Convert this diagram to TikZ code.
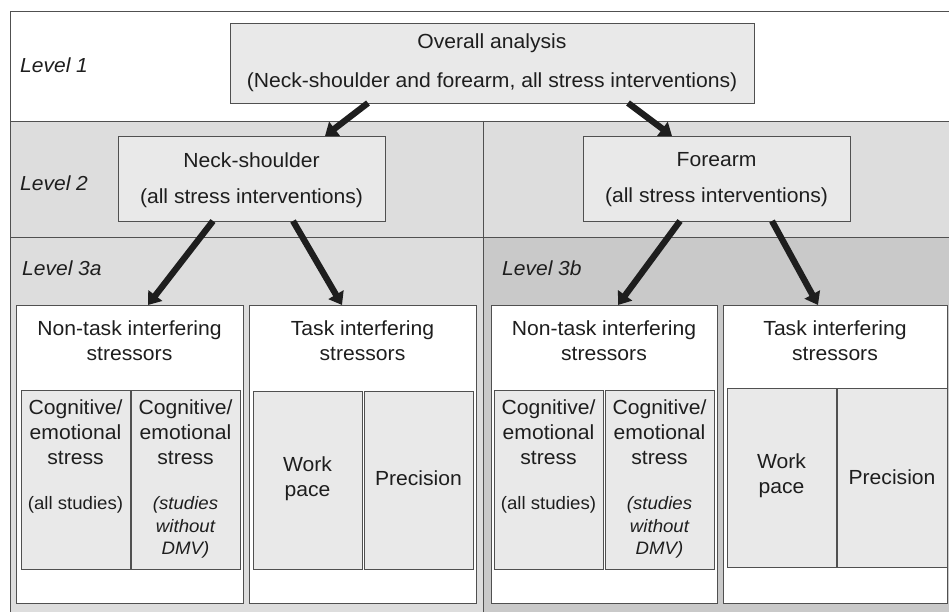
\documentclass[tikz,border=0pt]{standalone}
\usepackage{fontspec}
\setmainfont{Liberation Sans}[FakeStretch=1.035]
\usetikzlibrary{arrows.meta}
\definecolor{bandlight}{RGB}{221,221,221}
\definecolor{banddark}{RGB}{201,201,201}
\definecolor{boxfill}{RGB}{233,233,233}
\definecolor{edge}{RGB}{80,80,80}
\definecolor{ink}{RGB}{30,30,30}
\begin{document}
\begin{tikzpicture}[x=1pt,y=-1pt,
  bandline/.style={draw=edge, line width=0.9pt},
  graybox/.style={draw=edge, fill=boxfill, line width=0.8pt, rectangle, inner sep=0pt, outer sep=0pt},
  whitebox/.style={draw=edge, fill=white, line width=0.8pt, rectangle, inner sep=0pt, outer sep=0pt},
  txt/.style={font=\fontsize{20.4}{25}\selectfont, align=center, inner sep=0pt, text=ink},
  smalltxt/.style={font=\fontsize{18}{22.5}\selectfont, align=center, inner sep=0pt, text=ink},
  lvl/.style={font=\fontsize{20.3}{24}\selectfont\itshape, anchor=west, inner sep=0pt, text=ink},
  arr/.style={draw=ink, line width=6.3pt, -{Triangle[width=17pt,length=12pt]}, shorten >=0pt}
]
\useasboundingbox (0,0) rectangle (949,612);
\begin{scope}
\clip (0,0) rectangle (949,612);
% bands
\fill[white] (10,11) rectangle (960,121);
\fill[bandlight] (10,121) rectangle (960,237);
\fill[bandlight] (10,237) rectangle (483,620);
\fill[banddark] (483,237) rectangle (960,620);
\draw[bandline] (10,620) -- (10,11) -- (960,11);
\draw[bandline] (10,121) -- (960,121);
\draw[bandline] (10,237) -- (960,237);
\draw[bandline] (483,121) -- (483,620);
\end{scope}

% level labels
\node[lvl] (l1) at (20,65) {Level 1};
\node[lvl] (l2) at (20,183) {Level 2};
\node[lvl] (l3a) at (22,268) {Level 3a};
\node[lvl] (l3b) at (502,268) {Level 3b};

% level 1 and 2 boxes
\node[graybox, minimum width=524pt, minimum height=80pt] (top) at (492,63) {};
\node[txt, font=\fontsize{20.4}{39}\selectfont] (toptxt) at (492,62.5) {Overall analysis\\(Neck-shoulder and forearm, all stress interventions)};
\node[graybox, minimum width=267pt, minimum height=85pt] (ns) at (251.5,178.5) {};
\node[txt, font=\fontsize{20.4}{36}\selectfont] (nstxt) at (251.5,180) {Neck-shoulder\\(all stress interventions)};
\node[graybox, minimum width=267pt, minimum height=85pt] (fa) at (716.5,178.5) {};
\node[txt, font=\fontsize{20.4}{36}\selectfont] (fatxt) at (716.5,180) {Forearm\\(all stress interventions)};

% level 3a
\node[whitebox, minimum width=227pt, minimum height=298pt] (nta) at (129.5,454) {};
\node[txt] (ntatxt) at (129.5,340.5) {Non-task interfering\\stressors};
\node[whitebox, minimum width=227pt, minimum height=298pt] (tka) at (362.5,454) {};
\node[txt] (tkatxt) at (362.5,340.5) {Task interfering\\stressors};
\node[graybox, minimum width=109pt, minimum height=179pt] (c1a) at (75.5,479.5) {};
\node[txt] (c1atxt) at (75.5,432) {Cognitive/\\emotional\\stress};
\node[smalltxt] (c1anote) at (75.5,505) {(all studies)};
\node[graybox, minimum width=109pt, minimum height=179pt] (c2a) at (185.5,479.5) {};
\node[txt] (c2atxt) at (185.5,432) {Cognitive/\\emotional\\stress};
\node[smalltxt, font=\fontsize{18}{22.5}\selectfont\itshape] (c2anote) at (185.5,527.5) {(studies\\without\\DMV)};
\node[graybox, minimum width=109pt, minimum height=178pt] (wpa) at (307.5,480) {};
\node[txt] (wpatxt) at (307.5,478.5) {Work\\pace};
\node[graybox, minimum width=109pt, minimum height=178pt] (pra) at (418.5,480) {};
\node[txt] (pratxt) at (418.5,478) {Precision};

% level 3b
\node[whitebox, minimum width=226pt, minimum height=298pt] (ntb) at (604,454) {};
\node[txt] (ntbtxt) at (604,340.5) {Non-task interfering\\stressors};
\node[whitebox, minimum width=224pt, minimum height=298pt] (tkb) at (835,454) {};
\node[txt] (tkbtxt) at (835,340.5) {Task interfering\\stressors};
\node[graybox, minimum width=109pt, minimum height=179pt] (c1b) at (548.5,479.5) {};
\node[txt] (c1btxt) at (548.5,432) {Cognitive/\\emotional\\stress};
\node[smalltxt] (c1bnote) at (548.5,505) {(all studies)};
\node[graybox, minimum width=109pt, minimum height=179pt] (c2b) at (659.5,479.5) {};
\node[txt] (c2btxt) at (659.5,432) {Cognitive/\\emotional\\stress};
\node[smalltxt, font=\fontsize{18}{22.5}\selectfont\itshape] (c2bnote) at (659.5,527.5) {(studies\\without\\DMV)};
\node[graybox, minimum width=109pt, minimum height=179pt] (wpb) at (781.5,477.5) {};
\node[txt] (wpbtxt) at (781.5,476) {Work\\pace};
\node[graybox, minimum width=110pt, minimum height=179pt] (prb) at (892,477.5) {};
\node[txt] (prbtxt) at (892,477) {Precision};

% arrows
\draw[arr] ([xshift=-124pt]top.south) -- ([xshift=73.5pt]ns.north);
\draw[arr] ([xshift=136pt]top.south) -- ([xshift=-44.5pt]fa.north);
\draw[arr] ([xshift=-38.5pt]ns.south) -- ([xshift=18.5pt]nta.north);
\draw[arr] ([xshift=41.5pt]ns.south) -- ([xshift=-20.5pt]tka.north);
\draw[arr] ([xshift=-36.5pt]fa.south) -- ([xshift=14pt]ntb.north);
\draw[arr] ([xshift=55.5pt]fa.south) -- ([xshift=-17pt]tkb.north);
\end{tikzpicture}
\end{document}
